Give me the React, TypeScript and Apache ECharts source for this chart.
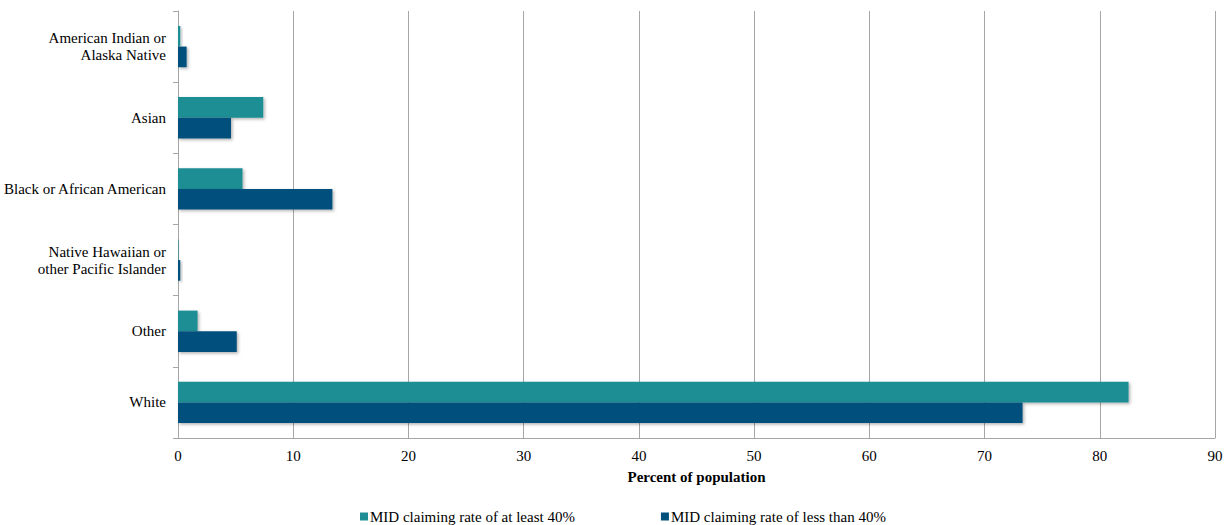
import React, { useEffect, useRef } from "react";
import * as echarts from "echarts";

const categories = [
  "American Indian or\nAlaska Native",
  "Asian",
  "Black or African American",
  "Native Hawaiian or\nother Pacific Islander",
  "Other",
  "White",
];
const atLeast40 = [0.2, 7.4, 5.6, 0.05, 1.7, 82.5];
const lessThan40 = [0.75, 4.6, 13.4, 0.2, 5.1, 73.3];
const seriesNames = ["MID claiming rate of at least 40%", "MID claiming rate of less than 40%"];
const xTicks = { min: 0, max: 90, interval: 10 };

const FONT = "Liberation Serif";
const FS = 15;
const shadow = { shadowBlur: 3, shadowOffsetX: 1.5, shadowOffsetY: 1.5, shadowColor: "rgba(0,0,0,0.3)" };

export default function App() {
  const ref = useRef<HTMLDivElement>(null);
  useEffect(() => {
    const chart = echarts.init(ref.current!, null, { renderer: "svg" });
    chart.setOption({
      animation: false,
      textStyle: { fontFamily: FONT },
      grid: { left: 178, right: 10, top: 11, bottom: 87, containLabel: false, outerBoundsMode: "none" },
      legend: {
        left: 360,
        top: 509,
        padding: 0,
        itemWidth: 8,
        itemHeight: 8,
        itemGap: 86,
        icon: "rect",
        textStyle: { fontFamily: FONT, fontSize: FS, color: "#000", padding: [0, 0, 0, -3] },
        data: seriesNames,
      },
      xAxis: {
        type: "value",
        min: xTicks.min,
        max: xTicks.max,
        interval: xTicks.interval,
        name: "Percent of population",
        nameLocation: "middle",
        nameGap: 31,
        nameTextStyle: { fontFamily: FONT, fontSize: FS, fontWeight: "bold", color: "#000" },
        axisLine: { show: true, lineStyle: { color: "#A6A6A6" } },
        axisTick: { show: false },
        axisLabel: { fontFamily: FONT, fontSize: FS, color: "#000", margin: 10 },
        splitLine: { show: true, lineStyle: { color: "#A6A6A6" } },
      },
      yAxis: {
        type: "category",
        inverse: true,
        data: categories,
        axisLine: { show: true, lineStyle: { color: "#A6A6A6" } },
        axisTick: { show: true, length: 5, lineStyle: { color: "#A6A6A6" } },
        axisLabel: { fontFamily: FONT, fontSize: FS, color: "#000", margin: 12, lineHeight: 17, align: "right" },
      },
      series: [
        {
          name: seriesNames[0],
          type: "bar",
          data: atLeast40,
          barGap: "0%",
          barCategoryGap: "42%",
          itemStyle: { color: "#1F8E94", ...shadow },
        },
        {
          name: seriesNames[1],
          type: "bar",
          data: lessThan40,
          barGap: "0%",
          barCategoryGap: "42%",
          itemStyle: { color: "#01507B", ...shadow },
        },
      ],
    });
    return () => chart.dispose();
  }, []);
  return (
    <div
      ref={ref}
      style={{ position: "absolute", left: 0, top: 0, width: 1225, height: 525, background: "#fff" }}
    />
  );
}
